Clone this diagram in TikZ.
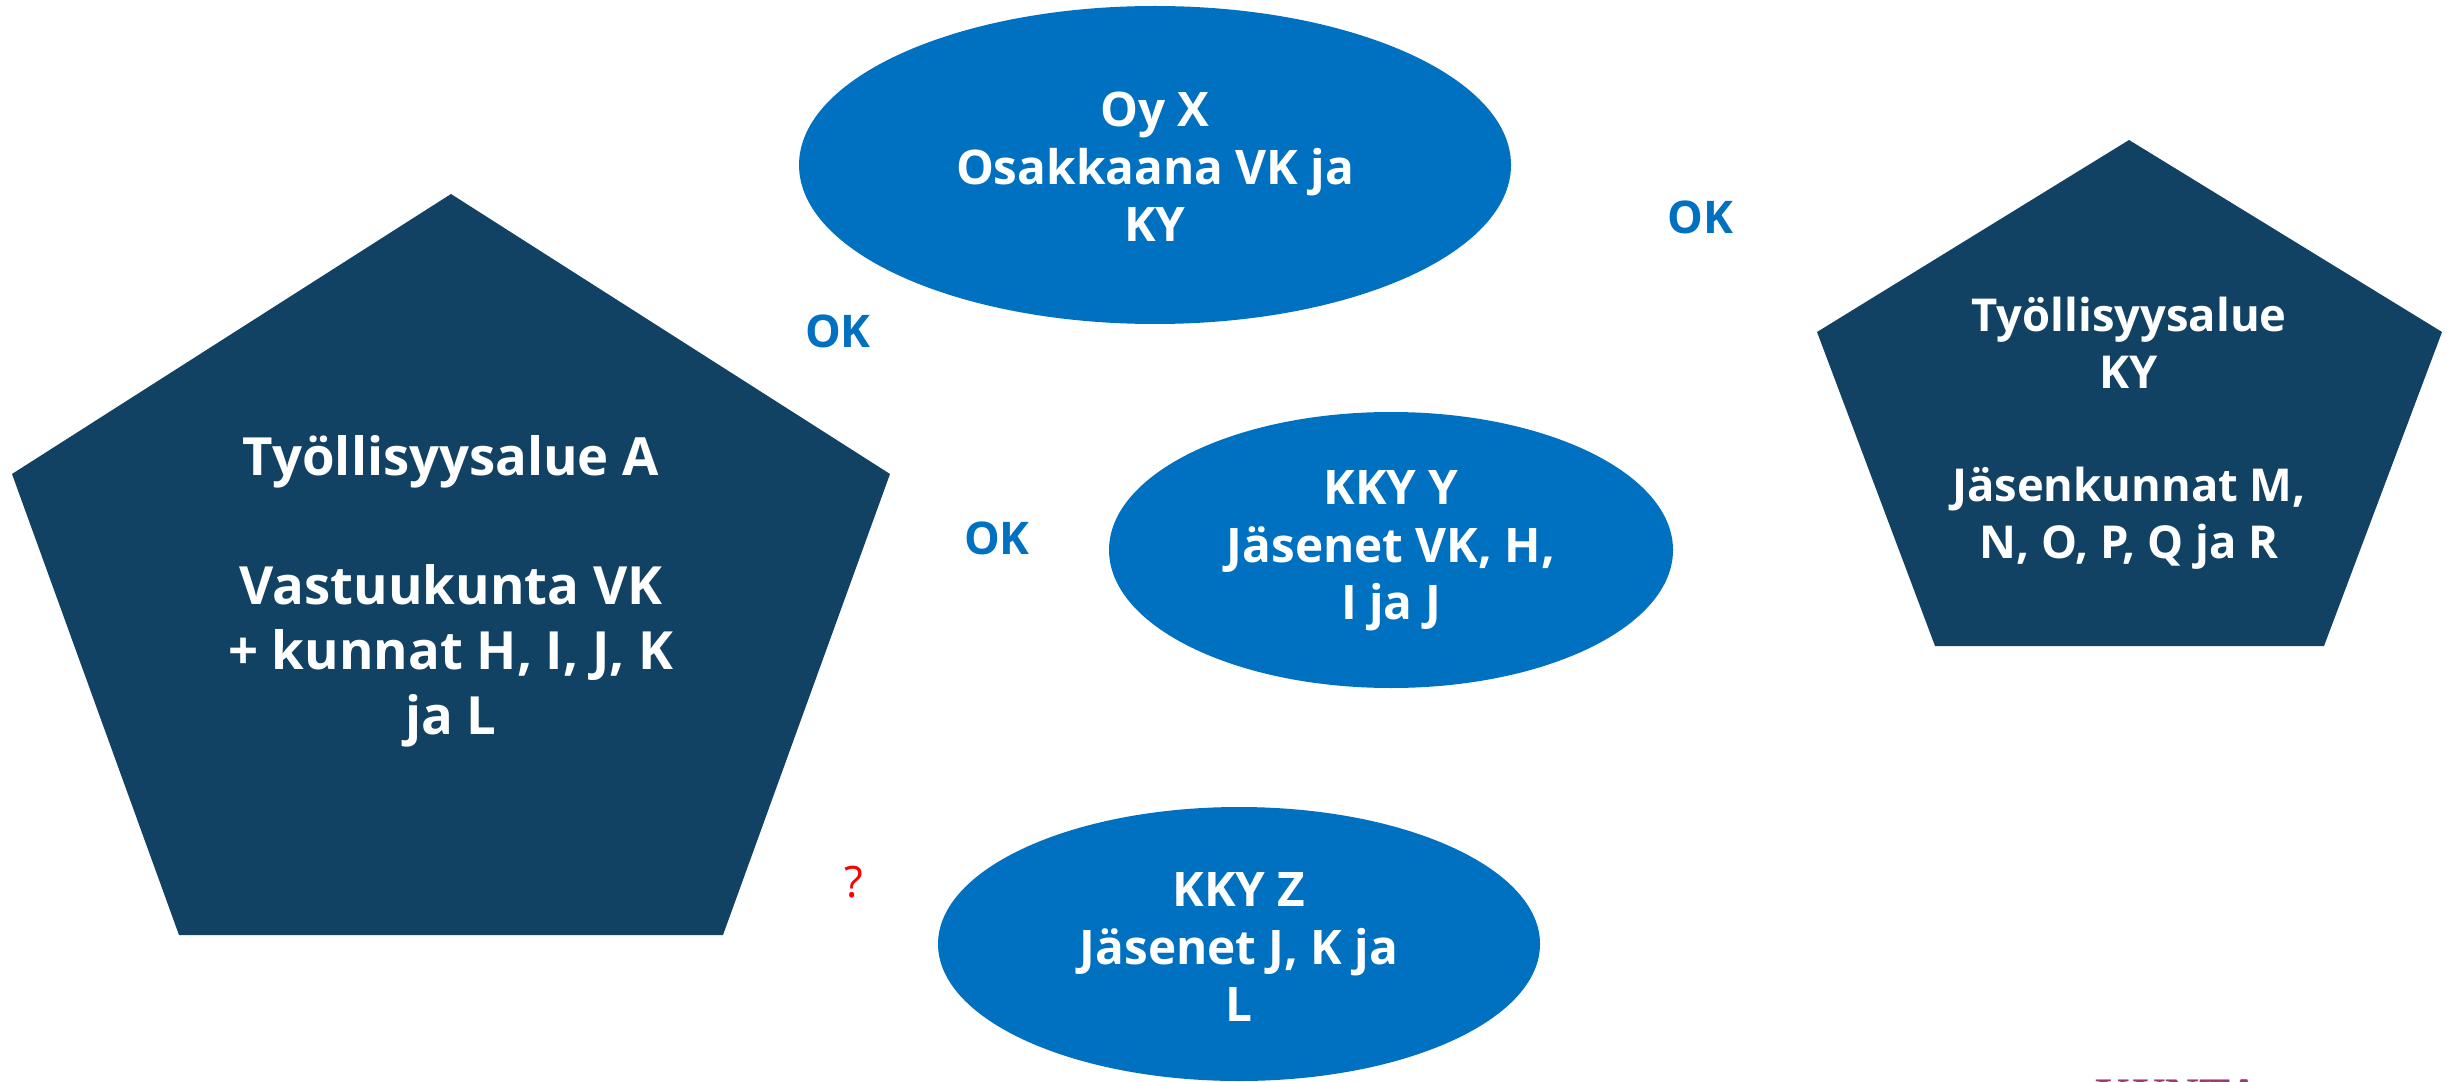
\documentclass[tikz,border=0pt]{standalone}
\usepackage{fontspec}
\setmainfont{Open Sans}
\newfontfamily\logofont{Liberation Serif}
\usetikzlibrary{shapes.geometric}
\definecolor{kblue}{HTML}{0070C0}
\definecolor{kdark}{HTML}{124263}
\definecolor{kred}{HTML}{FF0000}
\definecolor{kpurple}{HTML}{9B3A6E}
\begin{document}
\begin{tikzpicture}[x=0.3pt,y=-0.3pt,
  oval/.style={ellipse,fill=kblue,inner sep=0pt},
  ovaltxt/.style={text=white,font=\bfseries\fontsize{14.3}{17.2}\selectfont,align=center},
  pentxt/.style={text=white,align=center},
  oklabel/.style={text=kblue,font=\bfseries\fontsize{13.5}{16}\selectfont}]
\useasboundingbox (0,0) rectangle (2447,1081);
% left pentagon
\coordinate (la) at (451,194);
\coordinate (lb) at (890,474);
\coordinate (lc) at (723,935);
\coordinate (ld) at (179,935);
\coordinate (le) at (12,474);
\fill[kdark] (la) -- (lb) -- (lc) -- (ld) -- (le) -- cycle;
\node[pentxt,font=\bfseries\fontsize{15.8}{19.4}\selectfont] (ta) at (451,591) {Työllisyysalue A\\[19.4pt]Vastuukunta VK\\+ kunnat H, I, J, K\\ja L};
% right pentagon
\coordinate (ra) at (2129,140);
\coordinate (rb) at (2442,332);
\coordinate (rc) at (2324,646);
\coordinate (rd) at (1935,646);
\coordinate (re) at (1817,332);
\fill[kdark] (ra) -- (rb) -- (rc) -- (rd) -- (re) -- cycle;
\node[pentxt,font=\bfseries\fontsize{13.6}{17}\selectfont] (tky) at (2129,433) {Työllisyysalue\\KY\\[17pt]Jäsenkunnat M,\\N, O, P, Q ja R};
% ellipses
\node[oval,minimum width=213.6pt,minimum height=95.4pt] (oyx) at (1155,165) {};
\node[ovaltxt] (toyx) at (1155,167) {Oy X\\Osakkaana VK ja\\KY};
\node[oval,minimum width=169.2pt,minimum height=82.8pt] (kkyy) at (1391,550) {};
\node[ovaltxt] (tkkyy) at (1391,551) {KKY Y\\Jäsenet VK, H,\\I ja J};
\node[oval,minimum width=180.6pt,minimum height=82.2pt] (kkyz) at (1239,944) {};
\node[ovaltxt] (tkkyz) at (1239,947) {KKY Z\\Jäsenet J, K ja\\L};
% labels
\node[oklabel] (ok1) at (838,331) {OK};
\node[oklabel] (ok2) at (997,538) {OK};
\node[oklabel] (ok3) at (1700,217) {OK};
\node[text=kred,font=\fontsize{13}{15}\selectfont] (q) at (854,882) {?};
% logo fragment
\node[text=kpurple,font=\logofont\bfseries\fontsize{14}{16}\selectfont,anchor=base west,inner sep=0pt] (logo) at (2095,1110) {KUNTA};
\end{tikzpicture}
\end{document}
